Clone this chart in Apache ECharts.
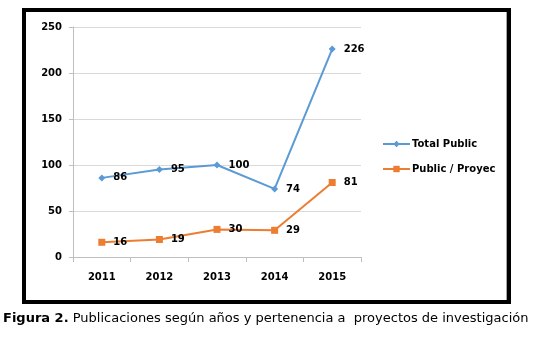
<!DOCTYPE html>
<html>
<head>
<meta charset="utf-8">
<style>
html,body{margin:0;padding:0;background:#fff;}
#chart{width:534px;height:338px;}
</style>
<script src="https://cdn.jsdelivr.net/npm/echarts@6/dist/echarts.min.js"></script>
</head>
<body>
<div id="chart"></div>
<script>
const years = ['2011', '2012', '2013', '2014', '2015'];
const totalPublic = [86, 95, 100, 74, 226];
const publicProyec = [16, 19, 30, 29, 81];
const seriesNames = ['Total Public', 'Public / Proyec'];
const yTicks = { min: 0, max: 250, interval: 50 };
const captionBold = 'Figura 2.';
const captionText = ' Publicaciones según años y pertenencia a  proyectos de investigación';

const FONT = 'DejaVu Sans';
const chart = echarts.init(document.getElementById('chart'), null, { renderer: 'canvas' });

const labelStyle = {
  show: true,
  position: 'right',
  distance: 8,
  color: '#000',
  fontFamily: FONT,
  fontWeight: 'bold',
  fontSize: 10
};

chart.setOption({
  animation: false,
  backgroundColor: '#fff',
  grid: { left: 73, right: 173, top: 27, bottom: 81, containLabel: false },
  legend: {
    orient: 'vertical',
    left: 382,
    top: 139,
    padding: 0,
    itemWidth: 27,
    itemHeight: 8,
    itemGap: 15,
    textStyle: { fontFamily: FONT, fontWeight: 'bold', fontSize: 10, color: '#000', padding: [0, 0, 0, -3] },
    data: seriesNames
  },
  xAxis: {
    type: 'category',
    data: years,
    boundaryGap: true,
    axisLine: { lineStyle: { color: '#bfbfbf', width: 1 } },
    axisTick: { show: true, length: 5, alignWithLabel: false, lineStyle: { color: '#bfbfbf' } },
    axisLabel: { margin: 15, color: '#000', fontFamily: FONT, fontWeight: 'bold', fontSize: 10 }
  },
  yAxis: {
    type: 'value',
    min: yTicks.min,
    max: yTicks.max,
    interval: yTicks.interval,
    axisLine: { show: true, lineStyle: { color: '#bfbfbf', width: 1 } },
    axisTick: { show: true, length: 4, lineStyle: { color: '#bfbfbf' } },
    splitLine: { show: true, lineStyle: { color: '#d9d9d9', width: 1 } },
    axisLabel: { margin: 11, color: '#000', fontFamily: FONT, fontWeight: 'bold', fontSize: 10 }
  },
  series: [
    {
      name: seriesNames[0],
      type: 'line',
      data: totalPublic,
      symbol: 'diamond',
      symbolSize: 7,
      color: '#5B9BD5',
      lineStyle: { width: 2, color: '#5B9BD5' },
      itemStyle: { color: '#5B9BD5' },
      label: labelStyle
    },
    {
      name: seriesNames[1],
      type: 'line',
      data: publicProyec,
      symbol: 'rect',
      symbolSize: 7,
      color: '#ED7D31',
      lineStyle: { width: 2, color: '#ED7D31' },
      itemStyle: { color: '#ED7D31' },
      label: labelStyle
    }
  ],
  graphic: [
    {
      type: 'line',
      shape: { x1: 506.5, y1: 12, x2: 506.5, y2: 300 },
      style: { stroke: '#a6a6a6', lineWidth: 1 },
      silent: true
    },
    {
      type: 'rect',
      shape: { x: 24, y: 10, width: 485, height: 292 },
      style: { fill: 'none', stroke: '#000', lineWidth: 4 },
      silent: true
    },
    {
      type: 'text',
      left: 3,
      top: 312,
      style: {
        text: '{b|' + captionBold + '}{r|' + captionText + '}',
        rich: {
          b: { fontFamily: FONT, fontWeight: 'bold', fontSize: 13, fill: '#000' },
          r: { fontFamily: FONT, fontSize: 13, fill: '#000' }
        }
      }
    }
  ]
});
</script>
</body>
</html>
